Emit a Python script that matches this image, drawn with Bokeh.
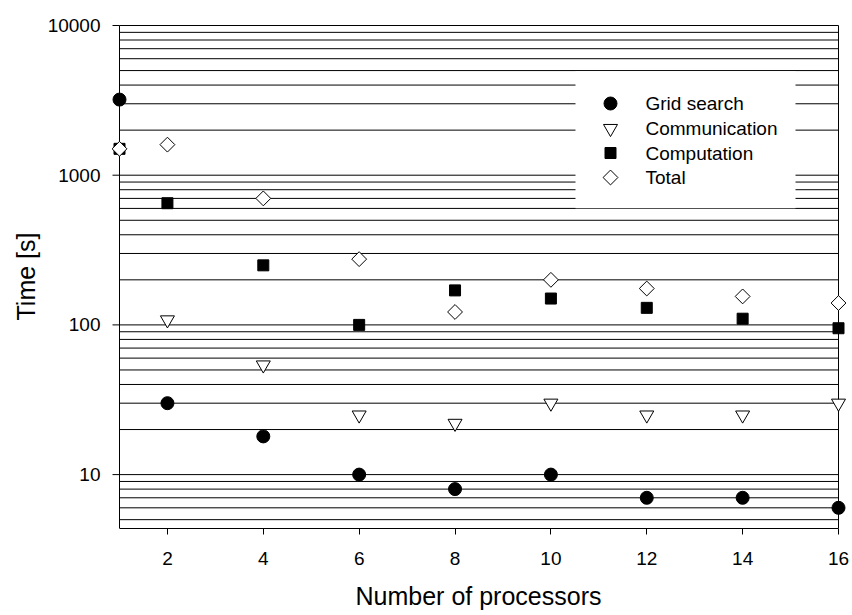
import numpy as np
from bokeh.plotting import figure
from bokeh.models import FixedTicker, Range1d, ColumnDataSource, BasicTickFormatter, Label
from bokeh.embed import file_html
from bokeh.resources import INLINE

# Timing of the parallel run versus processor count
procs_grid = [1, 2, 4, 6, 8, 10, 12, 14, 16]
grid_search = [3200, 30, 18, 10, 8, 10, 7, 7, 6]

procs_comm = [2, 4, 6, 8, 10, 12, 14, 16]
communication = [108, 54, 25, 22, 30, 25, 25, 30]

procs_comp = [1, 2, 4, 6, 8, 10, 12, 14, 16]
computation = [1500, 650, 250, 100, 170, 150, 130, 110, 95]

procs_total = [1, 2, 4, 6, 8, 10, 12, 14, 16]
total = [1500, 1600, 700, 275, 122, 200, 175, 155, 140]

series_names = ["Grid search", "Communication", "Computation", "Total"]

x_lo, x_hi = 1, 16
x_ticks = [2, 4, 6, 8, 10, 12, 14, 16]
y_major = [10, 100, 1000, 10000]
y_grid = sorted({m * d for d in (1, 10, 100, 1000) for m in range(1, 10)} | {10000})
y_grid = [v for v in y_grid if v >= 5]
y_bottom = 4.365

FONT = "Liberation Sans"

# pixel layout: the frame has a little slack around x_lo..x_hi so edge markers stay whole
W, H = 852, 615
AX_LEFT, AX_RIGHT = 119, 838        # screen x of x_lo and x_hi
FRAME_L, FRAME_R = 109, 847
AX_TOP, FRAME_T, FRAME_B = 25, 24, 528
ppu = (AX_RIGHT - AX_LEFT) / (x_hi - x_lo)
px_decade = (FRAME_B - AX_TOP) / np.log10(10000 / y_bottom)


def px_to_x(px):
    return x_lo + (px - AX_LEFT) / ppu


def py_to_y(py):
    return 10000 * 10 ** (-(py - AX_TOP) / px_decade)


p = figure(width=W, height=H, y_axis_type="log",
           x_range=Range1d(px_to_x(FRAME_L), px_to_x(FRAME_R)),
           y_range=Range1d(y_bottom, py_to_y(FRAME_T)),
           output_backend="svg", toolbar_location=None,
           min_border_left=FRAME_L, min_border_right=W - FRAME_R,
           min_border_top=FRAME_T, min_border_bottom=H - FRAME_B)

p.outline_line_color = None
p.background_fill_color = "white"
p.border_fill_color = "white"
p.xgrid.grid_line_color = None
p.ygrid.grid_line_color = None

n_grid = len(y_grid)
# horizontal rules at every 1..9 multiple of each decade
p.segment(x0=[x_lo] * n_grid, x1=[x_hi] * n_grid, y0=y_grid, y1=y_grid,
          line_color="black", line_width=1)
# left axis line, right border and the decade tick marks
p.segment(x0=[x_lo, x_hi], x1=[x_lo, x_hi], y0=[y_bottom, y_bottom], y1=[10000, 10000],
          line_color="black", line_width=1)
p.segment(x0=[px_to_x(AX_LEFT - 7)] * len(y_major), x1=[x_lo] * len(y_major),
          y0=y_major, y1=y_major, line_color="black", line_width=1)

# x axis
p.xaxis.ticker = FixedTicker(ticks=x_ticks)
p.xaxis.bounds = (x_lo, x_hi)
p.xaxis.axis_label = "Number of processors"
p.xaxis.major_tick_out = 6
p.xaxis.major_tick_in = 0
p.xaxis.minor_tick_line_color = None
p.xaxis.major_label_standoff = 17
p.xaxis.axis_label_standoff = 14
p.xaxis.axis_line_color = "black"
p.xaxis.major_tick_line_color = "black"

# y axis: labels only, its rule and ticks are drawn above on x_lo
p.yaxis.ticker = FixedTicker(ticks=y_major)
p.yaxis.formatter = BasicTickFormatter(use_scientific=False)
p.yaxis.axis_label = "Time [s]"
p.yaxis.axis_line_color = None
p.yaxis.major_tick_line_color = None
p.yaxis.minor_tick_line_color = None
p.yaxis.major_tick_out = 0
p.yaxis.major_tick_in = 0
p.yaxis.major_label_standoff = FRAME_L - 100
p.yaxis.axis_label_standoff = 5

for ax in (p.xaxis, p.yaxis):
    ax.major_label_text_font = FONT
    ax.major_label_text_font_size = "19px"
    ax.major_label_text_color = "black"
    ax.axis_label_text_font = FONT
    ax.axis_label_text_font_size = "25px"
    ax.axis_label_text_font_style = "normal"
    ax.axis_label_text_color = "black"

styles = [
    dict(marker="circle", size=13, fill_color="black", line_color="black", angle=0),
    dict(marker="inverted_triangle", size=14, fill_color="white", line_color="black", angle=0),
    dict(marker="square", size=11, fill_color="black", line_color="black", angle=0),
    dict(marker="square", size=10.5, fill_color="white", line_color="black", angle=np.pi / 4),
]

sources = [
    ColumnDataSource(dict(x=procs_grid, y=grid_search)),
    ColumnDataSource(dict(x=procs_comm, y=communication)),
    ColumnDataSource(dict(x=procs_comp, y=computation)),
    ColumnDataSource(dict(x=procs_total, y=total)),
]
for src, st in zip(sources, styles):
    p.scatter("x", "y", source=src, line_width=1, **st)

# legend: white panel over the rules, swatches and labels
LEG_L, LEG_R, LEG_T, LEG_B = 575, 795, 70.8, 207.7
SWATCH_X, TEXT_X = 610, 645
ROW_Y = [103, 128, 152.5, 177]

p.quad(left=[px_to_x(LEG_L)], right=[px_to_x(LEG_R)],
       top=[py_to_y(LEG_T)], bottom=[py_to_y(LEG_B)],
       fill_color="white", line_color=None)
for ry, st, name in zip(ROW_Y, styles, series_names):
    p.scatter([px_to_x(SWATCH_X)], [py_to_y(ry)], line_width=1, **st)
    p.add_layout(Label(x=TEXT_X - FRAME_L, y=FRAME_B - ry, x_units="screen", y_units="screen",
                       text=name, text_font=FONT, text_font_size="19px", text_color="black",
                       text_baseline="middle", text_align="left"))

open("out.html", "w").write(file_html(p, INLINE))
